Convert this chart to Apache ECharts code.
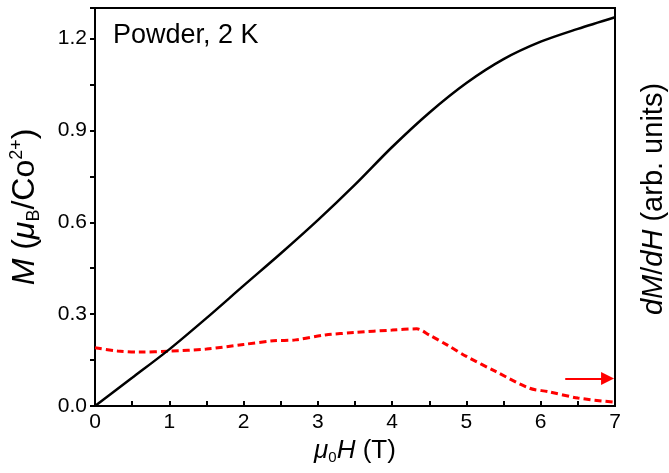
<!DOCTYPE html>
<html>
<head>
<meta charset="utf-8">
<script src="https://cdn.jsdelivr.net/npm/echarts@6/dist/echarts.min.js"></script>
<style>
  html, body { margin: 0; padding: 0; background: #fff; }
  #chart { width: 669px; height: 473px; }
</style>
</head>
<body>
<div id="chart"></div>
<script>
// field (T) and magnetization M (muB/Co2+)
const fieldM = [0, 0.5, 1, 1.5, 2, 2.5, 3, 3.5, 4, 4.5, 5, 5.5, 6, 6.5, 7];
const magM = [0, 0.092, 0.185, 0.287, 0.393, 0.498, 0.607, 0.723, 0.846, 0.958, 1.055, 1.133, 1.19, 1.232, 1.27];

// field (T) and dM/dH (arb. units)
const fieldD = [0, 0.3, 0.6, 1, 1.5, 2, 2.4, 2.7, 3.1, 3.5, 4, 4.33, 4.5, 4.75, 5, 5.4, 5.85, 6.1, 6.5, 7];
const dmdh = [0.19, 0.18, 0.176, 0.179, 0.186, 0.201, 0.213, 0.216, 0.232, 0.24, 0.248, 0.252, 0.232, 0.198, 0.162, 0.112, 0.058, 0.047, 0.026, 0.012];

// arrow pointing to the right axis
const arrowFrom = [6.33, 0.09];
const arrowTo = [6.9, 0.09];

const xTicks = [0, 1, 2, 3, 4, 5, 6, 7];
const yTicks = [0, 0.3, 0.6, 0.9, 1.2];

const font = 'Liberation Sans, Arial, sans-serif';

let chart = echarts.init(document.getElementById('chart'));

let option = {
  backgroundColor: '#fff',
  textStyle: { fontFamily: font, color: '#000' },
  animation: false,
  grid: {
    left: 95, right: 54, top: 8, bottom: 67,
    containLabel: false, outerBoundsMode: 'none',
    show: true, borderColor: '#000', borderWidth: 2, backgroundColor: 'transparent'
  },
  graphic: [{
    type: 'text', left: 113, top: 22,
    style: { text: 'Powder, 2 K', font: '27px ' + font, fill: '#000' }
  }],
  xAxis: {
    type: 'value', min: 0, max: 7, interval: 0.5,
    name: '{i|μ}{sub|0}{i|H} (T)',
    nameLocation: 'middle', nameGap: 30,
    nameTextStyle: {
      fontSize: 26, color: '#000',
      rich: {
        i: { fontSize: 26, fontStyle: 'italic', fontFamily: font },
        sub: { fontSize: 15, padding: [14, 0, 0, 0], fontFamily: font }
      }
    },
    axisLine: { lineStyle: { color: '#000', width: 2 } },
    axisTick: { inside: true, length: 5, lineStyle: { color: '#000', width: 2 } },
    axisLabel: {
      fontSize: 21, color: '#000', margin: 6,
      formatter: v => (xTicks.indexOf(v) >= 0 ? String(v) : '')
    },
    splitLine: { show: false }
  },
  yAxis: [
    {
      type: 'value', min: 0, max: 1.3, interval: 0.15,
      name: '{i|M} ({i|μ}{sub|B}/Co{sup|2+})',
      nameLocation: 'middle', nameGap: 52, nameRotate: 90,
      nameTextStyle: {
        fontSize: 32, color: '#000',
        rich: {
          i: { fontSize: 32, fontStyle: 'italic', fontFamily: font },
          sub: { fontSize: 18, padding: [17, 0, 0, 0], fontFamily: font },
          sup: { fontSize: 18, padding: [0, 0, 17, 0], fontFamily: font }
        }
      },
      axisLine: { lineStyle: { color: '#000', width: 2 } },
      axisTick: { inside: false, length: 5, lineStyle: { color: '#000', width: 2 } },
      axisLabel: {
        fontSize: 21, color: '#000', margin: 8,
        formatter: v => {
          let hit = yTicks.find(t => Math.abs(t - v) < 1e-6);
          return hit === undefined ? '' : hit.toFixed(1);
        }
      },
      splitLine: { show: false }
    },
    {
      type: 'value', min: 0, max: 1.3, position: 'right',
      name: '{i|dM}/{i|dH} (arb. units)',
      nameLocation: 'middle', nameGap: 24, nameRotate: 90,
      nameTextStyle: {
        fontSize: 29, color: '#000', padding: [0, 0, 0, 16],
        rich: { i: { fontSize: 29, fontStyle: 'italic', fontFamily: font } }
      },
      axisLine: { lineStyle: { color: '#000', width: 2 } },
      axisTick: { show: false },
      axisLabel: { show: false },
      splitLine: { show: false }
    }
  ],
  series: [
    {
      name: 'dM/dH',
      type: 'line',
      yAxisIndex: 1,
      data: fieldD.map((h, i) => [h, dmdh[i]]),
      smooth: 0.3,
      showSymbol: false,
      lineStyle: { color: '#ff0000', width: 3, type: [7, 4] },
      markLine: {
        silent: true,
        symbol: ['none', 'triangle'],
        symbolSize: 13,
        label: { show: false },
        lineStyle: { color: '#ff0000', width: 2, type: 'solid' },
        data: [[{ coord: arrowFrom }, { coord: arrowTo }]]
      }
    },
    {
      name: 'M',
      type: 'line',
      data: fieldM.map((h, i) => [h, magM[i]]),
      smooth: 0.3,
      showSymbol: false,
      lineStyle: { color: '#000', width: 2.5 }
    }
  ]
};

chart.setOption(option);
</script>
</body>
</html>
